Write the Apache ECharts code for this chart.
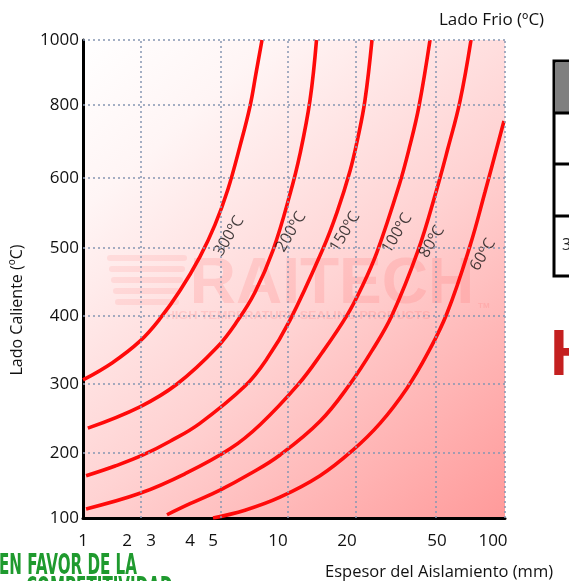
<!DOCTYPE html>
<html><head><meta charset="utf-8">
<script src="https://cdn.jsdelivr.net/npm/echarts@6/dist/echarts.min.js"></script>
<style>html,body{margin:0;padding:0;background:#fff;overflow:hidden}#c{width:569px;height:581px}</style>
</head><body><div id="c"></div>
<script>
// ---- data ----
const xTickMM = [1, 2, 3, 4, 5, 10, 20, 50, 100];
const yTickLabels = [100, 200, 300, 400, 500, 600, 800, 1000];
const curveNames = ['300ºC', '200ºC', '150ºC', '100ºC', '80ºC', '60ºC'];
// [espesor del aislamiento mm, lado caliente ºC]
const cold300 = [[1,306],[1.66,331],[2.54,363],[3.23,396],[3.74,437],[4.43,487],[5.15,533],[6.15,584],[7.08,688],[7.85,797],[8.31,898],[8.77,1000]];
const cold200 = [[1.11,236],[2.54,267],[3.67,300],[5.31,354],[6.92,394],[8.23,435],[9.62,497],[11.74,577],[13.19,666],[14.64,815],[15.58,1000]];
const cold150 = [[1.07,165],[1.73,180],[2.67,197],[3.49,217],[4.43,243],[7.46,297],[9.15,337],[11.74,394],[16.52,499],[18.55,551],[21,619],[23.67,712],[26,815],[28.33,1000]];
const cold100 = [[1.07,114],[2.54,138],[3.87,168],[6.31,206],[8.62,241],[12.9,299],[16.38,346],[20,401],[25,443],[30,494],[37.33,589],[41,690],[44,797],[47.67,1000]];
const cold80  = [[3.41,105],[4,122],[5.54,143],[7.85,168],[10.29,197],[16.09,246],[21,300],[28.33,349],[35,401],[43.67,496],[49.67,580],[59.82,682],[70.54,812],[80.36,1000]];
const cold60  = [[5,100],[7.46,112],[10.29,132],[16.09,165],[21.67,203],[31,243],[40,294],[47,346],[58.93,404],[79.46,503],[92.86,580],[109.8,756]];
const labelAnchors = [[6.23,517],[11.88,523],[19.71,523],[36.67,521],[48.33,509],[91.07,490]];
const xGridMM = [2.58, 5.62, 11.45, 23, 49.67, 110.7];

// ---- the original chart's hand-made (non-uniform) axis scales ----
const X_SCALE_U = [0, 44, 68, 107, 130, 195, 264, 354, 410];
const X_MAX_U = 422;
const Y_SCALE_U = [0, 65, 134, 202, 270, 340, 413, 478];
const Y_MAX_U = 478;
function piece(v, keys, us) {
  const n = keys.length;
  let i = 1;
  while (i < n - 1 && v > keys[i]) i++;
  return us[i-1] + (v - keys[i-1]) * (us[i] - us[i-1]) / (keys[i] - keys[i-1]);
}
const xu = mm => piece(mm, xTickMM, X_SCALE_U);
const yu = t => piece(t, yTickLabels, Y_SCALE_U);
const conv = arr => arr.map(p => [xu(p[0]), yu(p[1])]);
function labelOf(v, ticks, f) {
  for (let i = 0; i < ticks.length; i++) if (Math.abs(f(ticks[i]) - v) < 0.01) return String(ticks[i]);
  return '';
}

const FONT = 'Open Sans';
const gridLineStyle = {color: '#8797b3', width: 1.5, type: [2, 3]};
const allCurves = [cold300, cold200, cold150, cold100, cold80, cold60];

const gridMarks = xGridMM.map(v => ({xAxis: Math.min(xu(v), X_MAX_U)}))
  .concat(yTickLabels.slice(1).map(t => ({yAxis: yu(t)})));

const series = [{
  type: 'line', data: [], silent: true, z: 1,
  markLine: {silent: true, symbol: ['none', 'none'], label: {show: false},
    lineStyle: gridLineStyle, animation: false, data: gridMarks}
}];
allCurves.forEach((c, i) => {
  series.push({
    type: 'line', name: curveNames[i], data: conv(c), smooth: 0.4,
    showSymbol: false, symbol: 'none', z: 3,
    lineStyle: {color: '#ff0a0a', width: 3.6}
  });
});
series.push({
  type: 'scatter', z: 4, symbolSize: 0.1, itemStyle: {color: 'rgba(0,0,0,0)'},
  data: labelAnchors.map((p, i) => ({name: curveNames[i], value: [xu(p[0]), yu(p[1])]})),
  label: {show: true, position: 'inside', formatter: '{b}', rotate: 59, fontSize: 16,
          color: '#111', fontFamily: FONT}
});

const wm = 'rgba(255,70,70,0.14)';
const stripes = [];
for (let k = 0; k < 5; k++) {
  stripes.push({type: 'rect', shape: {x: 107 + k * 2, y: 255 + k * 11, width: 80 - k * 4, height: 6, r: 3},
    style: {fill: 'rgba(255,70,70,0.1)'}, z: 1, silent: true});
}

const chart = echarts.init(document.getElementById('c'));
chart.setOption({
  animation: false,
  backgroundColor: '#ffffff',
  grid: {left: 83, right: 64, top: 40, bottom: 63, show: true, borderWidth: 0,
    backgroundColor: new echarts.graphic.LinearGradient(0, 0, 1, 1, [
      {offset: 0, color: '#ffffff'}, {offset: 0.2, color: '#fff5f5'},
      {offset: 0.55, color: '#ffd3d3'}, {offset: 1, color: '#ff9a9a'}])},
  xAxis: {
    type: 'value', min: 0, max: X_MAX_U,
    axisLine: {lineStyle: {color: '#000', width: 3}},
    axisTick: {show: false}, splitLine: {show: false},
    axisLabel: {customValues: xTickMM.map(xu), formatter: v => labelOf(v, xTickMM, xu),
      margin: 15, fontSize: 17, color: '#111', fontFamily: FONT}
  },
  yAxis: {
    type: 'value', min: 0, max: Y_MAX_U,
    axisLine: {show: true, lineStyle: {color: '#000', width: 3}},
    axisTick: {show: false}, splitLine: {show: false},
    axisLabel: {customValues: yTickLabels.map(yu), formatter: v => labelOf(v, yTickLabels, yu),
      margin: 4, fontSize: 17, color: '#111', fontFamily: FONT, padding: [0, 0, 8, 0]}
  },
  graphic: [
    ...stripes,
    {type: 'text', z: 1, silent: true, x: 332, y: 285, style: {text: 'RAITECH', font: 'bold 64px "Liberation Sans"', fill: wm, textAlign: 'center', textVerticalAlign: 'middle', align: 'center', verticalAlign: 'middle'}},
    {type: 'text', z: 1, silent: true, x: 478, y: 302, style: {text: 'TM', font: 'bold 8px "Liberation Sans"', fill: wm}},
    {type: 'text', z: 1, silent: true, x: 298, y: 316, scaleX: 1.15, style: {text: 'HIGH TEMPERATURE SEALING PRODUCTS', font: 'bold 11px "Liberation Sans"', fill: wm, textAlign: 'center', textVerticalAlign: 'middle', align: 'center', verticalAlign: 'middle'}},
    {type: 'text', x: 17, y: 310, rotation: Math.PI / 2, style: {text: 'Lado Caliente (ºC)', font: '16px "Open Sans"', fill: '#111', textAlign: 'center', textVerticalAlign: 'middle', align: 'center', verticalAlign: 'middle'}},
    {type: 'text', x: 439, y: 20, style: {text: 'Lado Frio (ºC)', font: '17px "Open Sans"', fill: '#111', textVerticalAlign: 'middle', verticalAlign: 'middle'}},
    {type: 'text', x: 325, y: 572, style: {text: 'Espesor del Aislamiento (mm)', font: '16.5px "Open Sans"', fill: '#111', textVerticalAlign: 'middle', verticalAlign: 'middle'}},
    {type: 'text', x: -1, y: 566, scaleX: 0.58, style: {text: 'EN FAVOR DE LA', font: 'bold 29px "Liberation Sans Narrow", "DejaVu Sans Condensed", sans-serif', fill: '#1f9a2e', textVerticalAlign: 'middle', verticalAlign: 'middle'}},
    {type: 'text', x: 26, y: 589, scaleX: 0.58, style: {text: 'COMPETITIVIDAD', font: 'bold 29px "Liberation Sans Narrow", "DejaVu Sans Condensed", sans-serif', fill: '#1f9a2e', textVerticalAlign: 'middle', verticalAlign: 'middle'}},
    {type: 'rect', shape: {x: 554, y: 61, width: 40, height: 215}, style: {fill: '#fff', stroke: '#000', lineWidth: 3}},
    {type: 'rect', shape: {x: 555.5, y: 62.5, width: 40, height: 50}, style: {fill: '#7f7f7f'}},
    {type: 'line', shape: {x1: 554, y1: 113, x2: 569, y2: 113}, style: {stroke: '#000', lineWidth: 3}},
    {type: 'line', shape: {x1: 554, y1: 164, x2: 569, y2: 164}, style: {stroke: '#000', lineWidth: 3}},
    {type: 'line', shape: {x1: 554, y1: 216, x2: 569, y2: 216}, style: {stroke: '#000', lineWidth: 3}},
    {type: 'text', x: 562, y: 245, style: {text: '3', font: '16px "Open Sans"', fill: '#222', textVerticalAlign: 'middle', verticalAlign: 'middle'}},
    {type: 'text', x: 550, y: 357, style: {text: 'H', font: 'bold 64px "Liberation Sans"',
      fill: '#c42020', stroke: '#ffffff', lineWidth: 1,
      shadowBlur: 4, shadowColor: 'rgba(0,0,0,0.45)', shadowOffsetX: 2, shadowOffsetY: 3,
      textVerticalAlign: 'middle', verticalAlign: 'middle'}}
  ],
  series: series
});
</script></body></html>
